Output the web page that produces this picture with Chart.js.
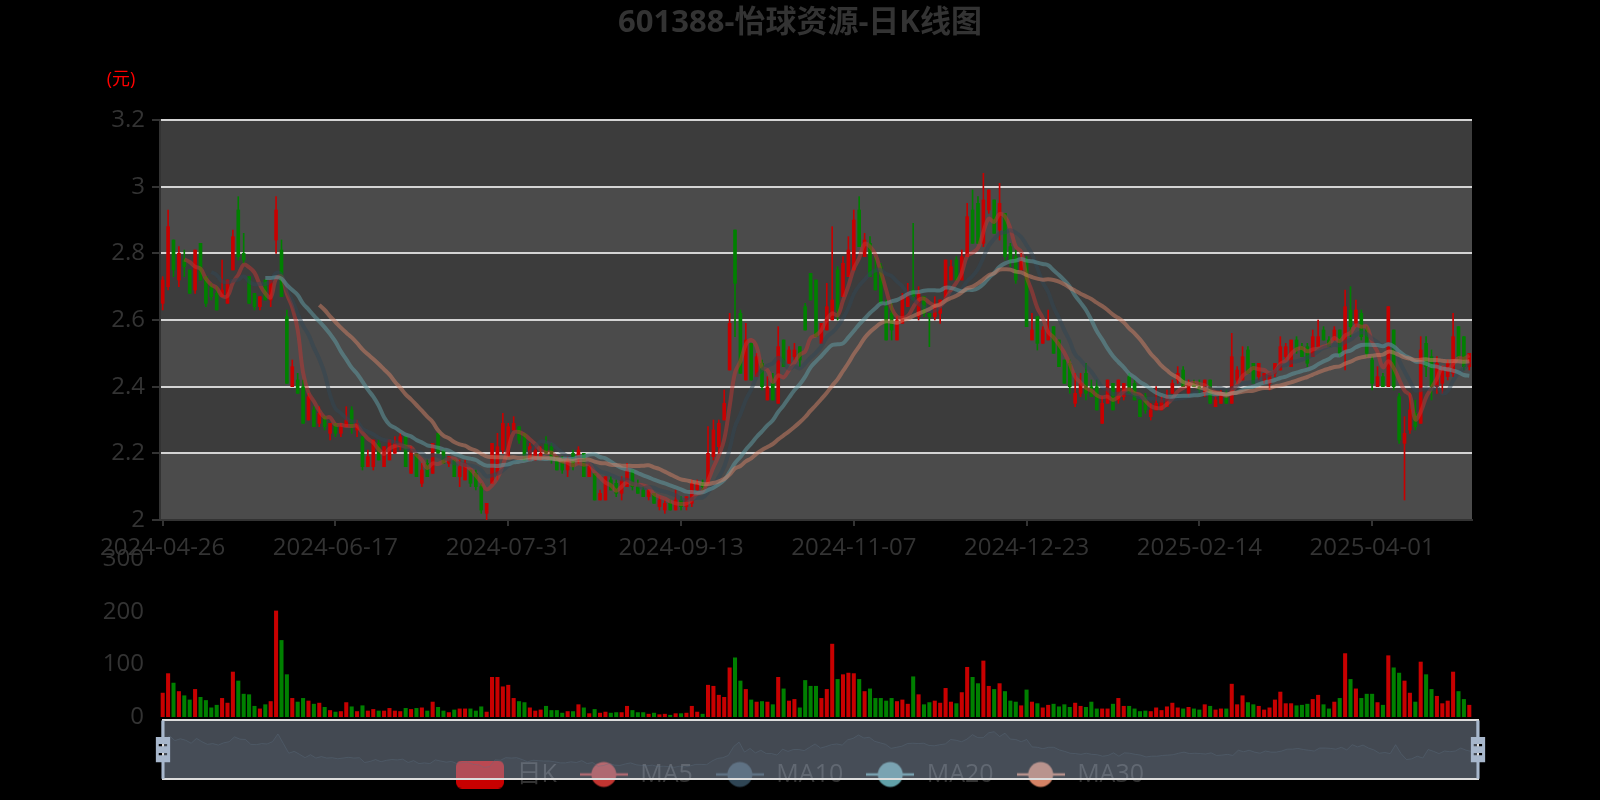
<!DOCTYPE html>
<html>
<head>
<meta charset="utf-8">
<title>601388-怡球资源-日K线图</title>
<script src="https://cdn.jsdelivr.net/npm/chart.js@4.4.1/dist/chart.umd.min.js"></script>
<style>
  html, body { margin: 0; padding: 0; background: #000; }
  #wrap { position: relative; width: 1600px; height: 800px; overflow: hidden; }
  #wrap canvas { position: absolute; left: 0; top: 0; }
</style>
</head>
<body>
<div id="wrap">
  <canvas id="kline" width="1600" height="800"></canvas>
  <canvas id="vol" width="1600" height="800"></canvas>
  <canvas id="zoom" width="1600" height="800"></canvas>
</div>
<script>
// trading calendar (SSE), first day and number of sessions shown
const firstDay = '2024-04-26';
const sessionCount = 243;
const marketHolidays = [
  '2024-05-01', '2024-05-02', '2024-05-03', '2024-06-10', '2024-09-16', '2024-09-17',
  '2024-10-01', '2024-10-02', '2024-10-03', '2024-10-04', '2024-10-07',
  '2025-01-01', '2025-01-28', '2025-01-29', '2025-01-30', '2025-01-31', '2025-02-03', '2025-02-04',
  '2025-04-04',
];

// daily prices (元)
const opens = [
  2.65, 2.70, 2.84, 2.72, 2.78, 2.75, 2.69, 2.83, 2.73, 2.70, 2.68, 2.67, 2.65, 2.75, 2.93, 2.80, 2.73, 2.68, 2.64, 2.72,
  2.66, 2.84, 2.81, 2.61, 2.40, 2.42, 2.40, 2.30, 2.33, 2.29, 2.31, 2.26, 2.29, 2.26, 2.28, 2.33, 2.27, 2.25, 2.16, 2.16,
  2.23, 2.16, 2.18, 2.20, 2.22, 2.25, 2.14, 2.20, 2.11, 2.17, 2.14, 2.26, 2.21, 2.17, 2.18, 2.13, 2.12, 2.15, 2.14, 2.10,
  2.02, 2.11, 2.14, 2.21, 2.19, 2.27, 2.28, 2.26, 2.18, 2.18, 2.19, 2.23, 2.22, 2.19, 2.18, 2.15, 2.20, 2.18, 2.20, 2.13,
  2.14, 2.06, 2.06, 2.12, 2.11, 2.08, 2.10, 2.15, 2.10, 2.09, 2.07, 2.08, 2.04, 2.03, 2.05, 2.03, 2.06, 2.04, 2.05, 2.09,
  2.11, 2.11, 2.19, 2.22, 2.30, 2.45, 2.87, 2.62, 2.42, 2.53, 2.43, 2.47, 2.36, 2.41, 2.35, 2.54, 2.47, 2.49, 2.52, 2.64,
  2.74, 2.72, 2.53, 2.57, 2.60, 2.75, 2.67, 2.73, 2.75, 2.93, 2.79, 2.83, 2.75, 2.76, 2.64, 2.62, 2.54, 2.59, 2.64, 2.69,
  2.61, 2.67, 2.62, 2.61, 2.62, 2.66, 2.72, 2.78, 2.72, 2.79, 2.93, 2.95, 2.83, 2.93, 2.96, 2.87, 2.92, 2.82, 2.79, 2.75,
  2.78, 2.54, 2.61, 2.53, 2.54, 2.58, 2.54, 2.48, 2.47, 2.35, 2.38, 2.44, 2.40, 2.40, 2.29, 2.35, 2.41, 2.36, 2.37, 2.43,
  2.41, 2.36, 2.37, 2.31, 2.33, 2.33, 2.34, 2.38, 2.42, 2.45, 2.38, 2.41, 2.40, 2.38, 2.42, 2.34, 2.35, 2.38, 2.35, 2.42,
  2.42, 2.51, 2.47, 2.43, 2.42, 2.41, 2.44, 2.45, 2.49, 2.46, 2.54, 2.52, 2.52, 2.49, 2.52, 2.57, 2.54, 2.54, 2.57, 2.51,
  2.63, 2.59, 2.62, 2.57, 2.48, 2.40, 2.43, 2.40, 2.57, 2.37, 2.23, 2.27, 2.32, 2.29, 2.53, 2.49, 2.40, 2.41, 2.43, 2.44,
  2.58, 2.55, 2.46,
];
const closes = [
  2.72, 2.88, 2.75, 2.80, 2.76, 2.68, 2.81, 2.72, 2.65, 2.67, 2.63, 2.69, 2.72, 2.85, 2.79, 2.78, 2.65, 2.64, 2.67, 2.66,
  2.72, 2.93, 2.67, 2.41, 2.46, 2.38, 2.29, 2.37, 2.28, 2.32, 2.28, 2.29, 2.26, 2.28, 2.30, 2.28, 2.29, 2.16, 2.19, 2.24,
  2.18, 2.22, 2.24, 2.23, 2.25, 2.16, 2.21, 2.13, 2.15, 2.13, 2.23, 2.20, 2.17, 2.19, 2.13, 2.16, 2.17, 2.11, 2.10, 2.03,
  2.05, 2.23, 2.22, 2.29, 2.28, 2.29, 2.24, 2.18, 2.22, 2.21, 2.20, 2.20, 2.18, 2.15, 2.15, 2.18, 2.16, 2.21, 2.13, 2.16,
  2.06, 2.08, 2.13, 2.09, 2.08, 2.12, 2.15, 2.10, 2.08, 2.07, 2.09, 2.05, 2.06, 2.05, 2.03, 2.06, 2.04, 2.07, 2.11, 2.11,
  2.10, 2.20, 2.27, 2.29, 2.35, 2.59, 2.71, 2.44, 2.54, 2.42, 2.49, 2.40, 2.40, 2.36, 2.52, 2.46, 2.51, 2.51, 2.48, 2.57,
  2.66, 2.55, 2.59, 2.64, 2.66, 2.63, 2.77, 2.81, 2.90, 2.82, 2.84, 2.73, 2.69, 2.65, 2.54, 2.57, 2.60, 2.67, 2.68, 2.67,
  2.68, 2.62, 2.61, 2.64, 2.66, 2.78, 2.76, 2.72, 2.79, 2.91, 2.83, 2.83, 2.96, 2.99, 2.86, 2.95, 2.79, 2.78, 2.72, 2.78,
  2.58, 2.57, 2.53, 2.57, 2.57, 2.50, 2.46, 2.41, 2.40, 2.38, 2.41, 2.38, 2.37, 2.33, 2.35, 2.42, 2.33, 2.42, 2.41, 2.38,
  2.36, 2.31, 2.33, 2.33, 2.35, 2.36, 2.37, 2.41, 2.44, 2.40, 2.41, 2.40, 2.39, 2.42, 2.35, 2.36, 2.38, 2.35, 2.49, 2.45,
  2.49, 2.44, 2.41, 2.47, 2.44, 2.44, 2.47, 2.52, 2.52, 2.54, 2.51, 2.49, 2.47, 2.55, 2.55, 2.54, 2.52, 2.57, 2.50, 2.64,
  2.58, 2.63, 2.55, 2.50, 2.41, 2.43, 2.40, 2.64, 2.40, 2.24, 2.26, 2.33, 2.28, 2.51, 2.46, 2.40, 2.47, 2.45, 2.47, 2.55,
  2.49, 2.46, 2.50,
];
const lows = [
  2.63, 2.69, 2.73, 2.70, 2.73, 2.68, 2.68, 2.72, 2.64, 2.66, 2.63, 2.67, 2.65, 2.75, 2.78, 2.77, 2.65, 2.63, 2.63, 2.66,
  2.64, 2.80, 2.67, 2.41, 2.40, 2.38, 2.29, 2.30, 2.28, 2.28, 2.27, 2.24, 2.25, 2.25, 2.28, 2.26, 2.25, 2.15, 2.16, 2.15,
  2.18, 2.16, 2.18, 2.20, 2.21, 2.16, 2.14, 2.13, 2.10, 2.13, 2.14, 2.20, 2.17, 2.16, 2.13, 2.10, 2.12, 2.10, 2.09, 2.02,
  2.00, 2.11, 2.12, 2.20, 2.19, 2.27, 2.23, 2.18, 2.18, 2.18, 2.18, 2.20, 2.17, 2.15, 2.14, 2.13, 2.15, 2.17, 2.13, 2.13,
  2.06, 2.06, 2.06, 2.09, 2.07, 2.06, 2.10, 2.09, 2.08, 2.07, 2.06, 2.05, 2.03, 2.02, 2.03, 2.03, 2.03, 2.03, 2.04, 2.09,
  2.09, 2.11, 2.18, 2.20, 2.30, 2.45, 2.55, 2.44, 2.42, 2.42, 2.43, 2.39, 2.36, 2.36, 2.35, 2.46, 2.47, 2.48, 2.46, 2.57,
  2.66, 2.55, 2.53, 2.57, 2.60, 2.60, 2.67, 2.73, 2.75, 2.82, 2.79, 2.73, 2.69, 2.65, 2.54, 2.54, 2.54, 2.59, 2.64, 2.66,
  2.60, 2.61, 2.52, 2.60, 2.59, 2.66, 2.72, 2.72, 2.72, 2.79, 2.83, 2.83, 2.82, 2.92, 2.86, 2.84, 2.78, 2.76, 2.71, 2.75,
  2.58, 2.54, 2.51, 2.53, 2.54, 2.50, 2.46, 2.41, 2.38, 2.34, 2.37, 2.36, 2.37, 2.33, 2.29, 2.35, 2.33, 2.35, 2.36, 2.38,
  2.36, 2.31, 2.32, 2.30, 2.33, 2.33, 2.34, 2.38, 2.41, 2.40, 2.37, 2.40, 2.38, 2.37, 2.35, 2.34, 2.35, 2.35, 2.35, 2.41,
  2.42, 2.44, 2.41, 2.42, 2.41, 2.39, 2.43, 2.45, 2.48, 2.46, 2.50, 2.49, 2.46, 2.49, 2.52, 2.54, 2.52, 2.54, 2.49, 2.45,
  2.55, 2.58, 2.54, 2.49, 2.39, 2.40, 2.40, 2.40, 2.39, 2.23, 2.06, 2.26, 2.27, 2.29, 2.43, 2.36, 2.38, 2.38, 2.42, 2.43,
  2.48, 2.45, 2.45,
];
const highs = [
  2.73, 2.93, 2.84, 2.82, 2.81, 2.75, 2.81, 2.83, 2.73, 2.71, 2.70, 2.78, 2.72, 2.87, 2.97, 2.86, 2.73, 2.68, 2.67, 2.72,
  2.72, 2.97, 2.84, 2.63, 2.48, 2.44, 2.42, 2.38, 2.34, 2.34, 2.31, 2.29, 2.29, 2.29, 2.34, 2.34, 2.30, 2.25, 2.21, 2.24,
  2.24, 2.22, 2.24, 2.25, 2.26, 2.25, 2.22, 2.20, 2.17, 2.18, 2.23, 2.26, 2.21, 2.19, 2.18, 2.18, 2.18, 2.15, 2.15, 2.11,
  2.05, 2.23, 2.26, 2.32, 2.29, 2.31, 2.28, 2.26, 2.23, 2.22, 2.22, 2.25, 2.23, 2.19, 2.19, 2.19, 2.21, 2.22, 2.20, 2.17,
  2.14, 2.09, 2.13, 2.13, 2.12, 2.13, 2.17, 2.15, 2.12, 2.10, 2.09, 2.08, 2.07, 2.06, 2.06, 2.09, 2.07, 2.07, 2.12, 2.12,
  2.12, 2.28, 2.30, 2.30, 2.39, 2.62, 2.87, 2.63, 2.59, 2.53, 2.50, 2.48, 2.43, 2.44, 2.58, 2.54, 2.52, 2.53, 2.52, 2.65,
  2.74, 2.72, 2.59, 2.71, 2.88, 2.76, 2.79, 2.85, 2.93, 2.97, 2.86, 2.85, 2.79, 2.77, 2.66, 2.65, 2.61, 2.68, 2.71, 2.89,
  2.70, 2.67, 2.62, 2.67, 2.66, 2.78, 2.78, 2.79, 2.81, 2.95, 2.99, 2.97, 3.04, 2.99, 2.96, 3.01, 2.92, 2.83, 2.81, 2.80,
  2.79, 2.62, 2.61, 2.58, 2.63, 2.58, 2.54, 2.48, 2.48, 2.44, 2.44, 2.47, 2.42, 2.42, 2.37, 2.42, 2.41, 2.42, 2.41, 2.44,
  2.42, 2.36, 2.38, 2.35, 2.40, 2.37, 2.39, 2.42, 2.46, 2.46, 2.42, 2.42, 2.42, 2.42, 2.42, 2.37, 2.39, 2.39, 2.56, 2.46,
  2.52, 2.52, 2.47, 2.47, 2.44, 2.44, 2.47, 2.55, 2.53, 2.54, 2.55, 2.53, 2.53, 2.57, 2.60, 2.58, 2.55, 2.58, 2.57, 2.69,
  2.70, 2.66, 2.63, 2.58, 2.49, 2.46, 2.44, 2.64, 2.57, 2.38, 2.31, 2.38, 2.36, 2.55, 2.55, 2.51, 2.49, 2.46, 2.48, 2.62,
  2.58, 2.55, 2.50,
];

// daily volume (lower panel)
const volumes = [
  46, 83, 65, 49, 41, 33, 53, 38, 32, 18, 23, 36, 27, 86, 69, 44, 43, 21, 16, 24,
  30, 202, 146, 81, 36, 29, 36, 31, 25, 27, 19, 13, 10, 11, 28, 20, 11, 22, 12, 15,
  12, 12, 17, 12, 11, 17, 15, 17, 18, 12, 29, 19, 12, 9, 14, 16, 16, 16, 12, 20,
  10, 76, 76, 58, 61, 36, 30, 28, 18, 12, 14, 21, 13, 13, 8, 11, 11, 24, 18, 7,
  15, 8, 10, 8, 9, 9, 21, 13, 9, 9, 6, 8, 5, 6, 4, 7, 7, 8, 21, 10,
  6, 61, 59, 42, 38, 94, 113, 69, 53, 33, 29, 30, 29, 24, 76, 54, 31, 34, 18, 70,
  59, 59, 36, 53, 139, 72, 81, 84, 83, 72, 49, 54, 36, 36, 31, 36, 30, 33, 25, 77,
  43, 24, 28, 31, 27, 55, 29, 26, 47, 95, 76, 64, 107, 59, 53, 64, 49, 31, 29, 22,
  52, 29, 26, 18, 23, 25, 20, 24, 19, 27, 21, 19, 29, 16, 16, 16, 25, 36, 21, 21,
  16, 11, 12, 11, 18, 13, 20, 27, 18, 16, 19, 16, 14, 24, 21, 14, 16, 16, 63, 24,
  41, 28, 24, 21, 14, 18, 33, 48, 26, 26, 22, 23, 25, 34, 42, 24, 16, 29, 36, 121,
  72, 54, 36, 44, 44, 28, 23, 117, 94, 84, 69, 46, 29, 105, 81, 53, 40, 26, 31, 86,
  49, 34, 23,
];

const maPeriods = [5, 10, 20, 30];
const maNames = ['MA5', 'MA10', 'MA20', 'MA30'];
const maColors = ['#c23531', '#2f4554', '#61a0a8', '#d48265'];
const maLineColors = ['rgba(194,53,49,0.5)', 'rgba(47,69,84,0.5)', 'rgba(97,160,168,0.5)', 'rgba(212,130,101,0.5)'];
const legendNames = ['日K', ...maNames];

const priceMin = 2;
const priceMax = 3.2;
const priceStep = 0.2;
const volumeMax = 300;
const volumeStep = 100;
const labelEvery = 32;

const UP = '#c80000';
const DOWN = '#008000';
const TEXT = '#333';
const bandColors = ['#4b4b4b', '#3c3c3c'];

// plot frame shared by the three layers (page pixels)
const plotLeft = 160;
const plotRight = 1472;
const priceTop = 120;
const priceBottom = 520;
const legendBottomPad = 3;

Chart.defaults.font.family = "'Open Sans', 'Noto Sans CJK SC', sans-serif";

function tradingDays(start, count, holidays) {
  const closed = new Set(holidays);
  const out = [];
  const d = new Date(start + 'T00:00:00Z');
  while (out.length < count) {
    const iso = d.toISOString().slice(0, 10);
    const wd = d.getUTCDay();
    if (wd !== 0 && wd !== 6 && !closed.has(iso)) out.push(iso);
    d.setUTCDate(d.getUTCDate() + 1);
  }
  return out;
}

function movingAverage(values, n) {
  return values.map((_, i) => {
    if (i < n - 1) return null;
    let sum = 0;
    for (let k = i - n + 1; k <= i; k++) sum += values[k];
    return +(sum / n).toFixed(3);
  });
}

// legend symbols: rounded box for the candles, line + dot for the averages
function legendIcon(kind, color) {
  const c = document.createElement('canvas');
  c.width = 48;
  c.height = 28;
  const g = c.getContext('2d');
  g.fillStyle = color;
  g.strokeStyle = color;
  if (kind === 'box') {
    g.beginPath();
    g.roundRect(0, 0, 48, 28, 6);
    g.fill();
  } else {
    g.lineWidth = 2.5;
    g.beginPath();
    g.moveTo(0, 14);
    g.lineTo(48, 14);
    g.stroke();
    g.beginPath();
    g.arc(24, 14, 12.5, 0, Math.PI * 2);
    g.fill();
  }
  return c;
}

const dates = tradingDays(firstDay, sessionCount, marketHolidays);
const candleColors = closes.map((c, i) => (c >= opens[i] ? UP : DOWN));
const legendIcons = [legendIcon('box', UP), ...maColors.map((col) => legendIcon('line', col))];

const bandPlugin = {
  id: 'bands',
  beforeDraw(chart) {
    const { ctx, chartArea: a, scales: { y } } = chart;
    const values = y.ticks.map((t) => t.value);
    ctx.save();
    for (let k = 0; k < values.length - 1; k++) {
      const top = y.getPixelForValue(values[k + 1]);
      const bottom = y.getPixelForValue(values[k]);
      ctx.fillStyle = bandColors[k % 2];
      ctx.fillRect(a.left, top, a.right - a.left, bottom - top);
    }
    ctx.restore();
  },
};

const unitPlugin = {
  id: 'unit',
  afterDraw(chart) {
    const { ctx, chartArea: a } = chart;
    ctx.save();
    ctx.fillStyle = '#ff0000';
    ctx.font = "18px 'Open Sans', 'Noto Sans CJK SC', sans-serif";
    ctx.textAlign = 'center';
    ctx.textBaseline = 'middle';
    ctx.fillText('(元)', a.left - 39, a.top - 40);
    ctx.restore();
  },
};

new Chart(document.getElementById('kline'), {
  type: 'bar',
  data: {
    labels: dates,
    datasets: [
      {
        label: '日K',
        data: lows.map((l, i) => [l, highs[i]]),
        backgroundColor: candleColors,
        barThickness: 1,
        grouped: false,
        order: 6,
      },
      {
        label: '日K',
        data: opens.map((o, i) => [Math.min(o, closes[i]), Math.max(o, closes[i])]),
        backgroundColor: candleColors,
        barThickness: 3,
        minBarLength: 1,
        grouped: false,
        order: 5,
      },
      ...maNames.map((name, k) => ({
        type: 'line',
        label: name,
        data: movingAverage(closes, maPeriods[k]),
        borderColor: maLineColors[k],
        borderWidth: 4,
        pointRadius: 0,
        tension: 0.4,
        fill: false,
        order: 4 - k,
      })),
    ],
  },
  options: {
    responsive: false,
    animation: false,
    layout: { padding: { left: 0, right: 0, top: 0, bottom: legendBottomPad } },
    plugins: {
      title: {
        display: true,
        text: '601388-怡球资源-日K线图',
        color: TEXT,
        font: { size: 31, weight: 'bold' },
        padding: { top: 5, bottom: priceTop - 5 - 37.2 },
      },
      legend: {
        position: 'bottom',
        labels: {
          usePointStyle: true,
          pointStyleWidth: 48,
          boxHeight: 25,
          padding: 23,
          color: TEXT,
          font: { size: 25 },
          generateLabels: () => legendNames.map((name, i) => ({
            text: name,
            pointStyle: legendIcons[i],
            fillStyle: 'rgba(0,0,0,0)',
            strokeStyle: 'rgba(0,0,0,0)',
            lineWidth: 0,
            hidden: false,
            datasetIndex: i === 0 ? 0 : i + 1,
            fontColor: TEXT,
          })),
        },
      },
      tooltip: { enabled: false },
    },
    scales: {
      x: {
        offset: true,
        grid: { display: true, drawOnChartArea: false, offset: false, tickLength: 6, tickColor: TEXT, lineWidth: 2 },
        border: { color: TEXT, width: 2 },
        ticks: { autoSkip: false, maxRotation: 0, color: TEXT, font: { size: 24 }, padding: 8 },
        afterBuildTicks: (s) => { s.ticks = s.ticks.filter((t) => t.value % labelEvery === 0); },
        afterFit: (s) => {
          const legendH = s.chart.legend ? s.chart.legend.height : 58;
          s.height = 800 - legendBottomPad - legendH - priceBottom;
        },
      },
      y: {
        min: priceMin,
        max: priceMax,
        ticks: {
          stepSize: priceStep,
          color: TEXT,
          font: { size: 24 },
          padding: 7,
          callback: (v) => String(+Number(v).toFixed(1)),
        },
        grid: {
          color: (ctx) => (ctx.tick && ctx.tick.value <= priceMin ? 'rgba(0,0,0,0)' : '#d4d4d4'),
          lineWidth: 2,
          tickLength: 8,
          tickColor: TEXT,
        },
        border: { color: TEXT, width: 2 },
        afterFit: (s) => { s.width = plotLeft; },
      },
      // empty right-hand strip so title and legend centre on the page
      spacer: {
        position: 'right',
        display: true,
        grid: { display: false, drawTicks: false },
        border: { display: false },
        ticks: { display: false },
        afterFit: (s) => { s.width = 1600 - plotRight; },
      },
    },
  },
  plugins: [bandPlugin, unitPlugin],
});

new Chart(document.getElementById('vol'), {
  type: 'bar',
  data: {
    labels: dates,
    datasets: [{
      label: '成交量',
      data: volumes,
      backgroundColor: candleColors,
      barPercentage: 0.75,
      categoryPercentage: 1,
    }],
  },
  options: {
    responsive: false,
    animation: false,
    layout: { padding: { left: 0, right: 1600 - plotRight, top: 559, bottom: 83 } },
    plugins: { legend: { display: false }, tooltip: { enabled: false } },
    scales: {
      x: { display: false },
      y: {
        min: 0,
        max: volumeMax,
        ticks: { stepSize: volumeStep, color: TEXT, font: { size: 24 }, padding: 16 },
        grid: { display: false, drawTicks: false },
        border: { display: false },
        afterFit: (s) => { s.width = plotLeft; },
      },
    },
  },
});

// data zoom strip: close-price shadow under a translucent filler, with handles
const handlePath = new Path2D('M8.2,13.6V3.9H6.3v9.7H3.1v14.9h3.3v9.7h1.8v-9.7h3.3V13.6H8.2z M9.7,24.4H4.8v-1.4h4.9V24.4z M9.7,19.1H4.8v-1.4h4.9V19.1z');

const sliderPlugin = {
  id: 'slider',
  afterDraw(chart) {
    const { ctx, chartArea: a } = chart;
    const w = a.right - a.left;
    const h = a.bottom - a.top;
    ctx.save();
    ctx.fillStyle = 'rgba(167,183,204,0.4)';
    ctx.fillRect(a.left, a.top, w, h);
    ctx.strokeStyle = '#ddd';
    ctx.lineWidth = 2;
    ctx.strokeRect(a.left - 1, a.top - 1, w + 2, h + 2);
    const cy = (a.top + a.bottom) / 2;
    [a.left - 1, a.right + 1].forEach((cx) => {
      ctx.save();
      ctx.translate(cx, cy);
      ctx.scale(1.7, 1.7);
      ctx.translate(-7.3, -21);
      ctx.fillStyle = '#a7b7cc';
      ctx.fill(handlePath);
      ctx.restore();
    });
    ctx.restore();
  },
};

const closeMin = Math.min(...closes);
const closeMax = Math.max(...closes);
const closeSpan = closeMax - closeMin;

new Chart(document.getElementById('zoom'), {
  type: 'line',
  data: {
    labels: dates,
    datasets: [{
      label: 'shadow',
      data: closes,
      borderColor: 'rgba(47,69,84,0.35)',
      borderWidth: 1,
      backgroundColor: 'rgba(47,69,84,0.1)',
      fill: 'start',
      pointRadius: 0,
      tension: 0,
    }],
  },
  options: {
    responsive: false,
    animation: false,
    layout: { padding: { left: 164, right: 123, top: 721, bottom: 22 } },
    plugins: { legend: { display: false }, tooltip: { enabled: false } },
    scales: {
      x: { display: false, offset: false },
      y: { display: false, min: closeMin - closeSpan * 0.3, max: closeMax + closeSpan * 0.3 },
    },
  },
  plugins: [sliderPlugin],
});
</script>
</body>
</html>
